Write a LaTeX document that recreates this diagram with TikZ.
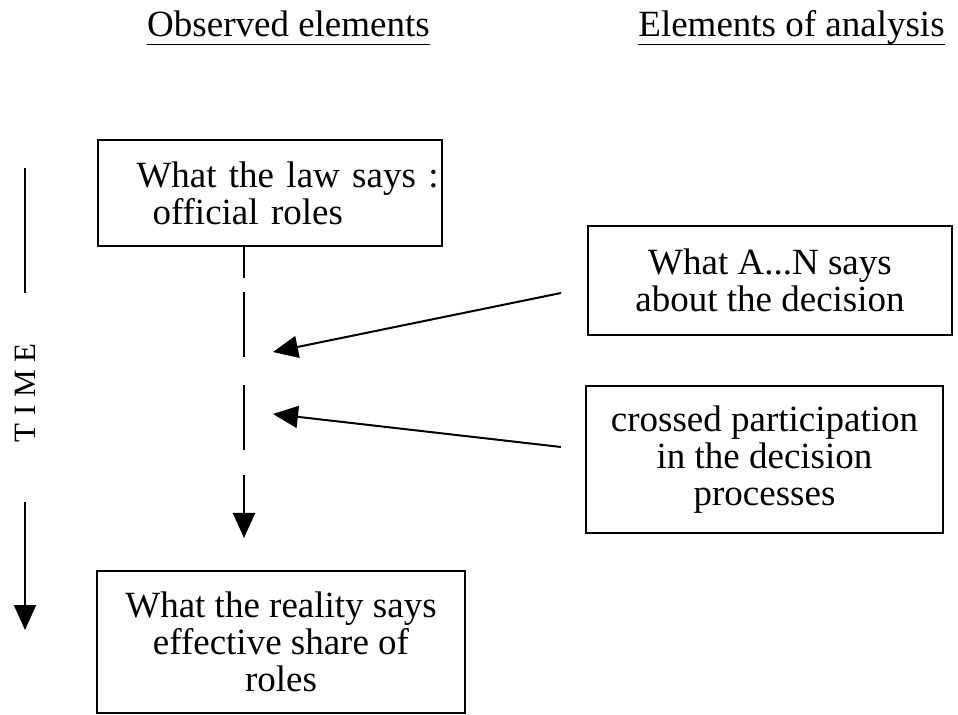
\documentclass[tikz,border=0pt]{standalone}
\usepackage{fontspec}
\setmainfont{Liberation Serif}
\usetikzlibrary{arrows.meta}

\newcommand\boxfont{\fontsize{18.5pt}{18.5pt}\selectfont}
\newcommand\timefont{\fontsize{15.5pt}{15.5pt}\selectfont}

\tikzset{
  box/.style={draw, line width=1pt, align=center, inner sep=2.5pt, font=\boxfont},
  header/.style={inner sep=0pt, text depth=3.5pt, font=\boxfont},
  underline/.style={line width=0.8pt},
  flow/.style={line width=1pt, -{Triangle[length=12.5pt,width=11pt]}},
}

\begin{document}
\begin{tikzpicture}[x=0.5pt, y=-0.5pt]
        \useasboundingbox (0,0) rectangle (958,715);
        % column headers
        \node[header, anchor=base] (observed) at (288.5,37) {Observed elements};
        \node[header, anchor=base] (analysis) at (791.5,37) {Elements of analysis};
        \draw[underline] (observed.south west) -- (observed.south east);
        \draw[underline] (analysis.south west) -- (analysis.south east);
        % observed elements
        \node[box, text width=167pt, align=left, minimum height=53pt] (law) at (269.5,193)
          {\hspace*{17pt}\mbox{What the law says :}\\\hspace*{25pt}\mbox{official roles}};
        \node[box, minimum width=184pt, minimum height=71pt] (reality) at (281,642)
          {What the reality says\\effective share of\\roles};
        % elements of analysis
        \node[box, minimum width=182pt, minimum height=54.5pt] (says) at (770,280.5)
          {What A...N says\\about the decision};
        \node[box, minimum width=178.5pt, minimum height=73.5pt] (crossed) at (764.5,459.5)
          {crossed participation\\in the decision\\processes};
        % time axis
        \node[rotate=90, inner sep=0pt, font=\timefont] (time) at (25,393) {T I M E};
        \coordinate (timetop) at (25,168);
        \coordinate (timeend) at (25,630);
        \draw[line width=1pt] (timetop) -- ([yshift=25pt]time.east);
        \draw[flow] ([yshift=-29.5pt]time.west) -- (timeend);
        % from the law to the reality
        \coordinate (flowend) at (244,538);
        \draw[flow, dash pattern=on 15.5pt off 7pt on 32.5pt off 14pt on 32.5pt off 12.5pt on 60pt off 0pt]
          (law.south -| flowend) -- (flowend);
        % what feeds the flow
        \coordinate (sayshit) at (273,352);
        \coordinate (crossedhit) at (273,414);
        \draw[flow] ([xshift=-13pt,yshift=-6.25pt]says.west) -- (sayshit);
        \draw[flow] ([xshift=-12pt,yshift=6.25pt]crossed.west) -- (crossedhit);
\end{tikzpicture}
\end{document}
